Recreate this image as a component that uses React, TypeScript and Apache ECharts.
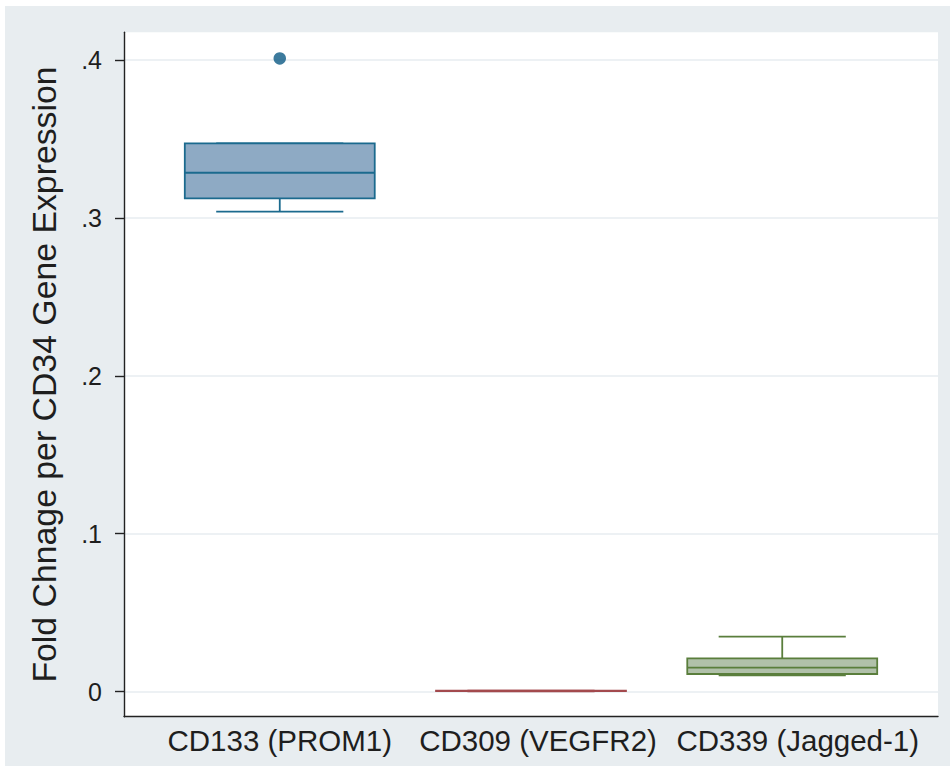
import React, { useEffect, useRef } from "react";
import * as echarts from "echarts";

// ---- data ----
const CATEGORIES = ["CD133 (PROM1)", "CD309 (VEGFR2)", "CD339 (Jagged-1)"];
// [min, Q1, median, Q3, max]
const CD133_BOX = [0.3039, 0.3124, 0.3286, 0.3472, 0.3472];
const CD309_BOX = [0.0001, 0.0003, 0.0004, 0.0005, 0.0006];
const CD339_BOX = [0.0103, 0.0111, 0.0151, 0.021, 0.0347];
const BOXES = [CD133_BOX, CD309_BOX, CD339_BOX];
const OUTLIERS = [[0, 0.401]]; // [category index, value]
const Y_TICKS = [0, 0.1, 0.2, 0.3, 0.4];
const Y_TICK_LABELS = ["0", ".1", ".2", ".3", ".4"];
const X_TICKS = [0, 1, 2];
const Y_TITLE = "Fold Chnage per CD34 Gene Expression";

// ---- styles ----
const STROKES = ["#1b6a8e", "#a34a4e", "#5a7e3c"];
const FILLS = ["#8eaac4", "#c99a9c", "#b1c1aa"];
const LABEL_PAD_LEFT = [0, 14, 31];
const FONT = "'Liberation Sans', Arial, Helvetica, sans-serif";

export default function App() {
  const ref = useRef<HTMLDivElement>(null);

  useEffect(() => {
    if (!ref.current) return;
    const chart = echarts.init(ref.current, null, { renderer: "svg" });

    const boxData = BOXES.map((b, i) => [i, ...b]);
    const rich: any = {};
    LABEL_PAD_LEFT.forEach((p, i) => {
      rich["l" + i] = {
        fontSize: 29.5,
        fontFamily: FONT,
        color: "#1e1e1e",
        padding: [0, 0, 0, p],
      };
    });

    const option: any = {
      animation: false,
      backgroundColor: "#e8edf0",
      grid: {
        show: true,
        left: 119,
        right: 12,
        top: 26.3,
        bottom: 49.3,
        backgroundColor: "#ffffff",
        borderWidth: 0,
        containLabel: false,
      },
      xAxis: {
        type: "value",
        min: -0.62,
        max: 2.62,
        axisLine: { show: true, onZero: false, lineStyle: { color: "#222", width: 1.4 } },
        axisTick: { show: false },
        splitLine: { show: false },
        axisLabel: {
          customValues: X_TICKS,
          formatter: (v: number) => {
            const i = Math.round(v);
            return "{l" + i + "|" + CATEGORIES[i] + "}";
          },
          rich,
          fontSize: 29.5,
          fontFamily: FONT,
          color: "#1e1e1e",
          margin: 9,
        },
      },
      yAxis: {
        type: "value",
        min: -0.01596,
        max: 0.41755,
        name: Y_TITLE,
        nameLocation: "middle",
        nameRotate: 90,
        nameGap: 63,
        nameTextStyle: { fontSize: 33.8, fontFamily: FONT, color: "#1e1e1e" },
        axisLine: { show: true, onZero: false, lineStyle: { color: "#222", width: 1.4 } },
        axisTick: {
          show: true,
          inside: false,
          length: 9,
          customValues: Y_TICKS,
          lineStyle: { color: "#222", width: 1.4 },
        },
        axisLabel: {
          customValues: Y_TICKS,
          formatter: (v: number) => {
            const idx = Y_TICKS.findIndex((t) => Math.abs(t - v) < 1e-9);
            return idx >= 0 ? Y_TICK_LABELS[idx] : "";
          },
          fontSize: 25,
          fontFamily: FONT,
          color: "#1e1e1e",
          margin: 22,
        },
        splitLine: { show: true, lineStyle: { color: "#e7ecf0", width: 1.5 } },
      },
      series: [
        {
          type: "custom",
          data: boxData,
          encode: { x: 0, y: [1, 2, 3, 4, 5] },
          renderItem: (params: any, api: any) => {
            const x = api.value(0);
            const mn = api.value(1);
            const q1 = api.value(2);
            const md = api.value(3);
            const q3 = api.value(4);
            const mx = api.value(5);
            const i = params.dataIndex;
            const boxW = api.size([0.756, 0])[0];
            const capW = api.size([0.506, 0])[0];
            const pMin = api.coord([x, mn]);
            const pQ1 = api.coord([x, q1]);
            const pMd = api.coord([x, md]);
            const pQ3 = api.coord([x, q3]);
            const pMax = api.coord([x, mx]);
            const cx = pMd[0];
            const stroke = STROKES[i];
            const lw = 1.8;
            const ls = { stroke, lineWidth: lw };
            return {
              type: "group",
              children: [
                { type: "line", shape: { x1: cx, y1: pQ1[1], x2: cx, y2: pMin[1] }, style: ls },
                { type: "line", shape: { x1: cx - capW / 2, y1: pMin[1], x2: cx + capW / 2, y2: pMin[1] }, style: ls },
                { type: "line", shape: { x1: cx, y1: pQ3[1], x2: cx, y2: pMax[1] }, style: ls },
                { type: "line", shape: { x1: cx - capW / 2, y1: pMax[1], x2: cx + capW / 2, y2: pMax[1] }, style: ls },
                {
                  type: "rect",
                  shape: { x: cx - boxW / 2, y: pQ3[1], width: boxW, height: Math.max(pQ1[1] - pQ3[1], 0.5) },
                  style: { fill: FILLS[i], stroke, lineWidth: lw },
                },
                { type: "line", shape: { x1: cx - boxW / 2, y1: pMd[1], x2: cx + boxW / 2, y2: pMd[1] }, style: ls },
              ],
            };
          },
        },
        {
          type: "scatter",
          data: OUTLIERS,
          symbol: "circle",
          symbolSize: 12.5,
          itemStyle: { color: "#0d5a84" },
        },
      ],
    };

    chart.setOption(option);
    return () => chart.dispose();
  }, []);

  return (
    <div style={{ position: "absolute", left: 0, top: 0, width: 950, height: 766, background: "#ffffff" }}>
      <div ref={ref} style={{ position: "absolute", left: 5, top: 6, width: 945, height: 760 }} />
    </div>
  );
}
